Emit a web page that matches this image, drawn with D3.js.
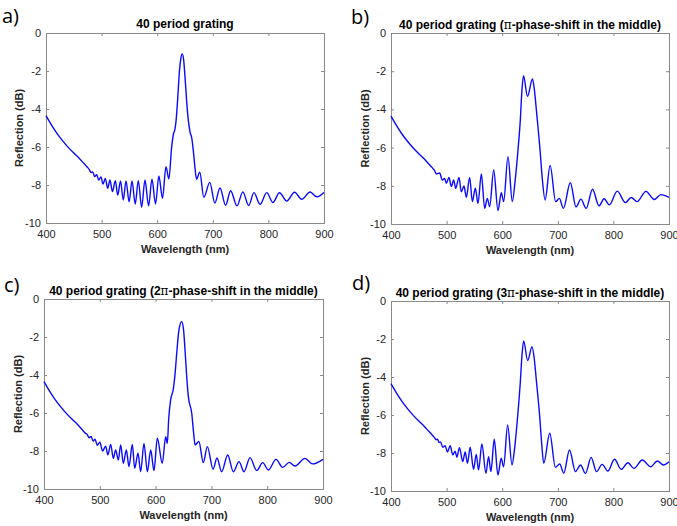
<!DOCTYPE html>
<html>
<head>
<meta charset="utf-8">
<script src="https://cdn.jsdelivr.net/npm/d3@7"></script>
<style>
  body { margin: 0; background: #fff; }
  svg { display: block; background: #fff; }
  text { font-family: "Liberation Sans", Arial, Helvetica, sans-serif; }
</style>
</head>
<body>
<svg id="chart" width="677" height="526"></svg>
<script>
// Axis ticks shared by all four panels
const xTicks = [400, 500, 600, 700, 800, 900];
const yTicks = [-10, -8, -6, -4, -2, 0];
const xDomain = [400, 900];
const yDomain = [-10, 0];

const panelLetters = ["a)", "b)", "c)", "d)"];
const titleBase = "40 period grating";
const phaseShifts = ["", "\u03C0", "2\u03C0", "3\u03C0"];
const xLabel = "Wavelength (nm)";
const yLabel = "Reflection (dB)";

// a) plain 40 period grating
const wavelengthA = [400,410,420,430,440,450,460,468,474,478,481,484,487.6,491.2,494.7,498.9,502.5,506.7,511,515,519.5,524.7,529,534,539,543.9,549.5,554.7,560.5,566,572,578,584.5,590.6,597,603,609.5,615.8,621,626,629,632,634,637,640,642.5,645,647.5,650,653,656,659,662,665,668,670.7,676.6,683.8,694.6,703.6,713,723,732,743.5,754,764.5,774,785,797,808,820,833,847,860,875,887,900];
const reflectionA = [-4.35,-4.85,-5.3,-5.68,-6.02,-6.32,-6.6,-6.86,-7.05,-7.19,-7.34,-7.31,-7.56,-7.46,-7.74,-7.58,-7.95,-7.65,-8.18,-7.74,-8.35,-7.77,-8.53,-7.79,-8.79,-7.79,-8.88,-7.79,-9.0,-7.77,-9.17,-7.74,-9.1,-7.7,-9.0,-7.53,-8.7,-7.04,-7.68,-6.0,-5.35,-5.05,-4.6,-3.4,-2.0,-1.35,-1.1,-1.4,-2.3,-3.6,-4.6,-5.2,-5.5,-6.2,-7.1,-7.7,-7.33,-8.65,-7.86,-8.95,-8.16,-9.07,-8.3,-9.1,-8.36,-9.08,-8.4,-9.02,-8.4,-8.92,-8.41,-8.85,-8.38,-8.75,-8.37,-8.62,-8.39];

// b) pi phase shift in the middle
const wavelengthB = [400,410,420,430,440,450,460,468,474,478,481.5,487.5,492.3,496.5,499.5,504.3,508.5,512.7,516.3,522.3,526.5,531.3,535.5,541.5,546.3,551.7,556.5,562.5,568.5,573.3,577.5,584.7,592.4,598.4,602.6,610.4,618.2,623,628.4,632.6,635.5,638.3,645.5,654.5,658,662,668,672,677.2,686.2,696.2,702.8,710,722.5,732.8,741.5,751,762.5,774,783.3,792.7,807,821.5,832,842.5,858.5,873.5,885.5,900];
const reflectionB = [-4.35,-4.85,-5.3,-5.68,-6.02,-6.32,-6.6,-6.86,-7.05,-7.18,-7.38,-7.33,-7.7,-7.61,-7.87,-7.56,-8.04,-7.7,-8.13,-7.56,-8.31,-8.01,-8.6,-7.56,-8.83,-8.13,-8.92,-7.38,-9.18,-8.66,-9.09,-7.17,-9.3,-8.36,-8.83,-6.47,-8.83,-7.8,-6.13,-4.55,-3.0,-2.24,-3.32,-2.41,-3.0,-4.2,-6.1,-7.6,-8.74,-6.93,-8.83,-8.66,-9.18,-7.84,-9.11,-8.7,-9.18,-8.18,-9.05,-8.68,-9.0,-8.28,-8.88,-8.61,-8.83,-8.29,-8.72,-8.46,-8.6];

// c) 2pi phase shift in the middle
const wavelengthC = [400,410,420,430,440,450,460,468,474,477,481,484.5,488,491.5,495.5,500,505,510.5,514.5,519.5,524.3,528.4,533.2,537.4,542.2,547.6,552.3,558.3,562.5,568.5,573.2,579.2,585.2,591.2,597.1,603.1,612,618.1,621,623.5,627,631.7,635,638,642,646.7,650,653,656,658.7,664.7,668,670.7,677.5,685.5,692.7,703,710,718.4,729.2,739.3,749.5,758.5,769.2,781.2,792,802,815.8,827.7,839.6,849.8,867.7,881.5,900];
const reflectionC = [-4.35,-4.85,-5.3,-5.68,-6.02,-6.32,-6.6,-6.86,-7.06,-7.12,-7.3,-7.24,-7.48,-7.38,-7.7,-7.54,-8.0,-7.75,-8.2,-7.65,-8.39,-7.95,-8.47,-7.68,-8.65,-7.95,-8.82,-7.65,-8.91,-8.12,-9.09,-7.6,-9.09,-7.95,-9.03,-7.33,-8.65,-7.25,-7.6,-6.3,-5.3,-4.75,-3.9,-2.8,-1.6,-1.19,-1.6,-2.8,-4.2,-5.14,-6.0,-7.0,-7.68,-7.5,-8.61,-7.77,-8.96,-8.37,-9.09,-8.21,-9.09,-8.56,-9.09,-8.35,-9.03,-8.61,-9.0,-8.44,-8.86,-8.6,-8.79,-8.39,-8.68,-8.44];

// d) 3pi phase shift in the middle
const wavelengthD = [400,410,420,430,440,450,460,468,474,478,481,483.5,486.5,489,493.2,497.4,501.6,506.4,511.2,515.4,518.4,523.2,529,533.4,537.6,542.4,548.5,553.3,557.5,563.5,570.7,575.5,579.7,585.7,592.3,598.3,602.5,609.8,617.6,622.5,628,632.5,635.5,638.6,645.8,653.6,657.5,661.5,667.5,671,674.7,685.5,695.7,703.5,710.7,721,731.8,740.8,749.8,760,769.6,779.8,790,802,814,826,837,852,867,879,890,900];
const reflectionD = [-4.35,-4.85,-5.3,-5.68,-6.02,-6.32,-6.6,-6.86,-7.05,-7.18,-7.3,-7.27,-7.45,-7.42,-7.7,-7.62,-7.95,-7.62,-8.1,-7.9,-8.22,-7.72,-8.45,-7.95,-8.54,-7.7,-8.86,-8.07,-8.89,-7.53,-9.07,-8.19,-8.98,-7.28,-9.16,-8.28,-8.72,-6.53,-8.63,-7.7,-6.0,-4.3,-2.9,-2.1,-3.14,-2.4,-3.0,-4.2,-6.1,-7.5,-8.54,-6.96,-8.75,-8.58,-9.07,-7.84,-8.98,-8.63,-9.07,-8.23,-8.98,-8.6,-8.95,-8.33,-8.86,-8.51,-8.81,-8.37,-8.72,-8.42,-8.63,-8.46];

// Panel placement (plot-area rectangles and text anchors)
const layout = [
  { left: 46,  right: 324, top: 33,  bottom: 223, letter: [2, 23],   titleY: 28,  yLabelX: 23,  xLabelY: 253 },
  { left: 391, right: 669, top: 33,  bottom: 224, letter: [351, 24], titleY: 29,  yLabelX: 369, xLabelY: 254 },
  { left: 44,  right: 323, top: 299, bottom: 489, letter: [4, 292],  titleY: 295, yLabelX: 22,  xLabelY: 519 },
  { left: 391, right: 669, top: 301, bottom: 491, letter: [352, 290],titleY: 297, yLabelX: 369, xLabelY: 521 }
];

const series = [
  { x: wavelengthA, y: reflectionA },
  { x: wavelengthB, y: reflectionB },
  { x: wavelengthC, y: reflectionC },
  { x: wavelengthD, y: reflectionD }
];

const svg = d3.select("#chart");
const axisColor = "#8a8a8a";
const labelColor = "#262626";

layout.forEach((p, i) => {
  const g = svg.append("g");
  const x = d3.scaleLinear().domain(xDomain).range([p.left, p.right]);
  const y = d3.scaleLinear().domain(yDomain).range([p.bottom, p.top]);
  const tick = 3;

  // bottom and left axes carry the labels; top and right only ticks, all pointing inward
  const bx = g.append("g").attr("transform", `translate(0,${p.bottom})`)
    .call(d3.axisBottom(x).tickValues(xTicks).tickSizeInner(-tick).tickSizeOuter(0).tickPadding(7).tickFormat(d3.format("d")));
  const ly = g.append("g").attr("transform", `translate(${p.left},0)`)
    .call(d3.axisLeft(y).tickValues(yTicks).tickSizeInner(-tick).tickSizeOuter(0).tickPadding(5));
  const tx = g.append("g").attr("transform", `translate(0,${p.top})`)
    .call(d3.axisTop(x).tickValues(xTicks).tickSizeInner(-tick).tickSizeOuter(0).tickFormat(""));
  const ry = g.append("g").attr("transform", `translate(${p.right},0)`)
    .call(d3.axisRight(y).tickValues(yTicks).tickSizeInner(-tick).tickSizeOuter(0).tickFormat(""));

  [bx, ly, tx, ry].forEach(a => {
    a.select(".domain").remove();
    a.selectAll(".tick line").attr("stroke", axisColor);
    a.selectAll(".tick text").attr("fill", labelColor)
      .style("font-size", "11px").style("font-family", "'Liberation Sans', Arial, sans-serif");
  });
  ly.selectAll(".tick text").text(d => d < 0 ? "-" + Math.abs(d) : d);

  // axes box
  g.append("rect")
    .attr("x", p.left + 0.5).attr("y", p.top + 0.5)
    .attr("width", p.right - p.left).attr("height", p.bottom - p.top)
    .attr("fill", "none").attr("stroke", axisColor).attr("stroke-width", 1);

  // reflection spectrum
  const pts = series[i].x.map((w, k) => [w, series[i].y[k]]);
  const line = d3.line().x(d => x(d[0])).y(d => y(d[1])).curve(d3.curveMonotoneX);
  g.append("path").datum(pts)
    .attr("d", line)
    .attr("fill", "none")
    .attr("stroke", "#0a0aff")
    .attr("stroke-width", 1.4)
    .attr("stroke-linejoin", "round");

  // title
  const cx = (p.left + p.right) / 2;
  const t = g.append("text").attr("x", cx).attr("y", p.titleY)
    .attr("text-anchor", "middle").style("font-size", "12px").style("font-weight", "bold").attr("fill", "#000");
  t.append("tspan").text(titleBase);
  if (phaseShifts[i]) {
    const num = phaseShifts[i].slice(0, -1);
    t.append("tspan").text(" (" + num);
    t.append("tspan").style("font-weight", "normal").style("font-family", "'DejaVu Serif', serif").text("\u03C0");
    t.append("tspan").text("-phase-shift in the middle)");
  }

  // axis labels
  g.append("text").attr("x", cx).attr("y", p.xLabelY)
    .attr("text-anchor", "middle").style("font-size", "11px").style("font-weight", "bold")
    .attr("fill", labelColor).text(xLabel);
  g.append("text")
    .attr("transform", `translate(${p.yLabelX},${(p.top + p.bottom) / 2}) rotate(-90)`)
    .attr("text-anchor", "middle").style("font-size", "11px").style("font-weight", "bold")
    .attr("fill", labelColor).text(yLabel);

  // panel letter
  g.append("text").attr("x", p.letter[0]).attr("y", p.letter[1])
    .style("font-family", "'Open Sans', 'Noto Sans', sans-serif").style("font-size", "20px")
    .attr("fill", "#000").text(panelLetters[i]);
});
</script>
</body>
</html>
